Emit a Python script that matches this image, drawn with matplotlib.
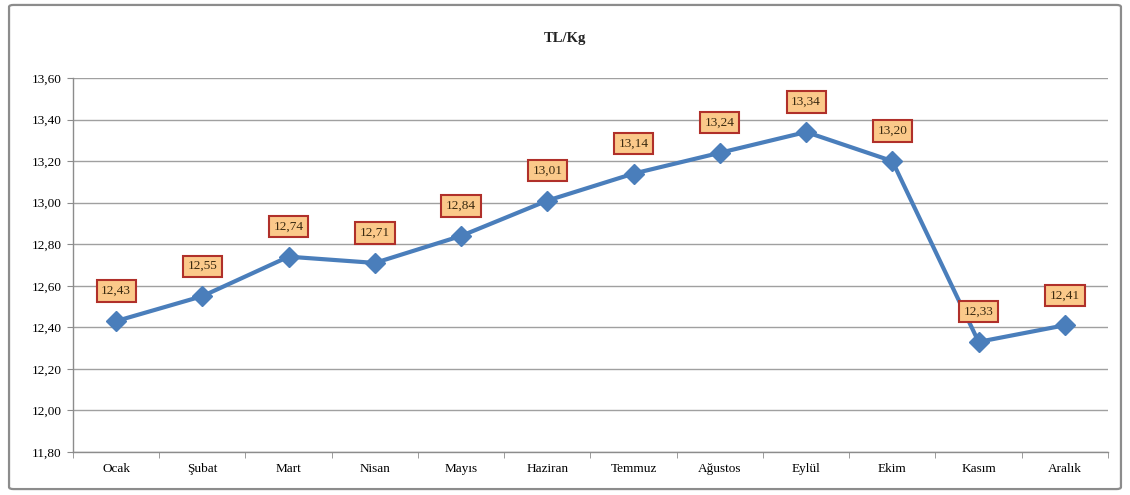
import matplotlib
matplotlib.use("Agg")
import matplotlib.pyplot as plt
from matplotlib.patches import FancyBboxPatch

months = ["Ocak", "Şubat", "Mart", "Nisan", "Mayıs", "Haziran", "Temmuz",
          "Ağustos", "Eylül", "Ekim", "Kasım", "Aralık"]
values = [12.43, 12.55, 12.74, 12.71, 12.84, 13.01, 13.14, 13.24, 13.34, 13.20, 12.33, 12.41]
yticks = [11.80, 12.00, 12.20, 12.40, 12.60, 12.80, 13.00, 13.20, 13.40, 13.60]
title = "TL/Kg"

serif = ["Liberation Serif", "DejaVu Serif"]
plt.rcParams['font.family'] = serif

fig = plt.figure(figsize=(11.3, 4.95), dpi=100)
ax = fig.add_axes([0.0646, 0.0869, 0.9159, 0.7555])

# figure border
fig.patches.append(FancyBboxPatch((0.008, 0.012), 0.984, 0.978,
                                  boxstyle="round,pad=0,rounding_size=0.004",
                                  transform=fig.transFigure, fill=False,
                                  edgecolor="#8c8c8c", linewidth=1.6))

x = list(range(len(months)))
ax.plot(x, values, color="#4a7ebb", linewidth=3.0, marker="D", markersize=10,
        markerfacecolor="#4a7ebb", markeredgecolor="#4a7ebb", zorder=3)

for xi, v in zip(x, values):
    ax.annotate(f"{v:.2f}".replace(".", ","), (xi, v), xytext=(0, 30),
                textcoords="offset pixels",
                ha="center", va="center", fontsize=9.5, color="#3a2a10",
                bbox=dict(boxstyle="square,pad=0.35", facecolor="#fbc98a",
                          edgecolor="#b0302a", linewidth=1.5), zorder=4)

ax.set_xlim(-0.5, len(months) - 0.5)
ax.set_ylim(11.80, 13.60)
ax.set_yticks(yticks)
ax.set_yticklabels([f"{t:.2f}".replace(".", ",") for t in yticks], fontsize=9.5)
ax.set_xticks(x)
ax.set_xticklabels(months, fontsize=9.5)
ax.set_xticks([i + 0.5 for i in range(-1, len(months))], minor=True)
ax.tick_params(axis="x", which="major", length=0, pad=8)
ax.tick_params(axis="x", which="minor", length=4, color="#8c8c8c")
ax.tick_params(axis="y", length=4, color="#8c8c8c", pad=4)

ax.grid(axis="y", color="#a0a0a0", linewidth=1.0)
ax.set_axisbelow(True)
for s in ["top", "right"]:
    ax.spines[s].set_visible(False)
for s in ["left", "bottom"]:
    ax.spines[s].set_color("#8c8c8c")
    ax.spines[s].set_linewidth(1.0)

fig.text(0.5, 0.922, title, ha="center", va="center", fontsize=10.5,
         fontweight="bold", color="#222222")

fig.savefig("out.png", dpi=100)
